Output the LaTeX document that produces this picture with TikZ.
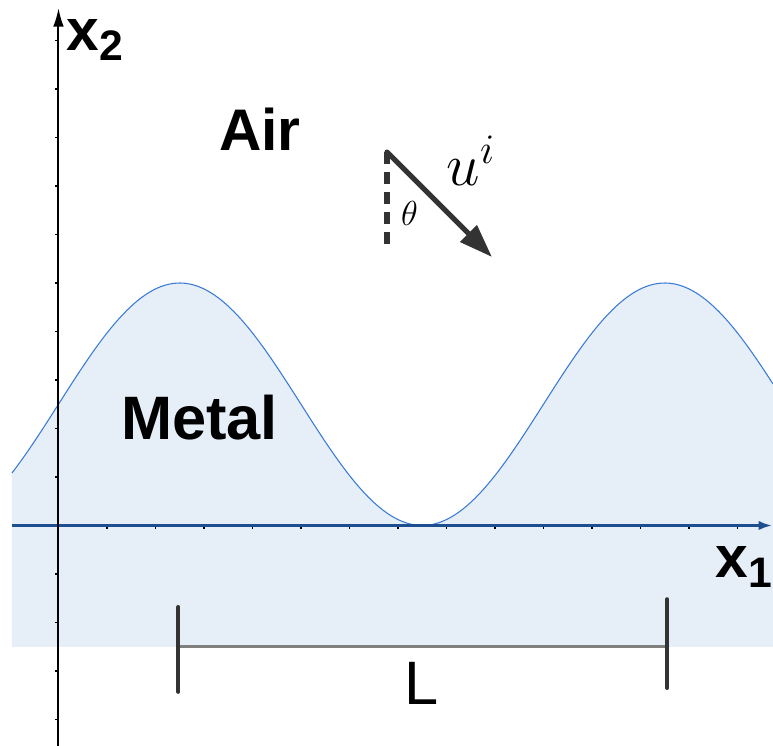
\RequirePackage{fix-cm}
\documentclass[tikz,border=0pt]{standalone}
\usepackage{fontspec}
\newfontfamily\arialf{Liberation Sans}
\usetikzlibrary{arrows.meta}
\definecolor{fillblue}{HTML}{E6EEF8}
\definecolor{waveblue}{HTML}{3A7BD5}
\definecolor{axisblue}{HTML}{1D4E8F}
\definecolor{darkgraythree}{HTML}{333333}
\definecolor{lgray}{HTML}{808080}
\tikzset{
  lbl/.style={inner sep=0pt, font=\arialf\bfseries\fontsize{44}{50}\selectfont},
  tickmark/.style={line width=1.2pt, black},
  wavecurve/.style={waveblue, line width=0.8pt},
  lbar/.style={darkgraythree, line width=3pt, line cap=round},
  incident/.style={darkgraythree, line width=3.8pt},
}
\begin{document}
\begin{tikzpicture}[x=36.375pt,y=36.375pt]
\useasboundingbox (-1.206,-4.526) rectangle (14.732,10.835);
% metal region
\fill[fillblue] (-0.959,-2.5) -- plot[domain=-0.959:14.732, samples=200] (\x,{2.5+2.5*cos(36*(\x-2.5))}) -- (14.732,-2.5) -- cycle;
\draw[wavecurve] plot[domain=-0.959:14.732, samples=200] (\x,{2.5+2.5*cos(36*(\x-2.5))});
% ticks
\foreach \k in {1,...,14} \draw[tickmark] (\k,0) -- (\k,-0.07);
\foreach \k in {-4,-3,-2,-1,1,2,3,4,5,6,7,8,9,10} \draw[tickmark] (0,\k) -- (-0.07,\k);
% axes
\coordinate (hstart) at (-0.959,0);
\coordinate (hend) at (14.71,0);
\coordinate (vstart) at (0,-4.6);
\coordinate (vend) at (0,10.67);
\draw[axisblue, line width=1.8pt, -{Latex[length=10pt,width=7pt]}] (hstart) -- (hend);
\draw[black, line width=1.5pt, -{Latex[length=14pt,width=8pt]}] (vstart) -- (vend);
% labels
\node[lbl, anchor=base] (air) at (4.155,7.74) {Air};
\node[lbl, anchor=base, font=\arialf\bfseries\fontsize{46}{50}\selectfont] (metal) at (2.907,1.763) {Metal};
\node[lbl, anchor=base west] (xtwo) at (0.16,9.80) {x\raisebox{-7.5pt}{\fontsize{32}{36}\selectfont 2}};
\node[lbl, anchor=base west] (xone) at (13.55,-1.08) {x\raisebox{-7pt}{\fontsize{32}{36}\selectfont 1}};
% period marker
\coordinate (la) at (2.474,-1.68);
\coordinate (lb) at (2.474,-3.43);
\coordinate (ra) at (12.55,-1.52);
\coordinate (rb) at (12.55,-3.35);
\coordinate (lm) at (2.474,-2.5);
\coordinate (rm) at (12.55,-2.5);
\draw[lgray, line width=2pt] (lm) -- (rm);
\draw[lbar] (la) -- (lb);
\draw[lbar] (ra) -- (rb);
\node[inner sep=0pt, font=\arialf\fontsize{46}{50}\selectfont, anchor=base] (L) at (7.48,-3.70) {L};
% incident wave
\coordinate (ustart) at (6.773,7.70);
\coordinate (uend) at (8.938,5.536);
\coordinate (dend) at (6.773,5.742);
\draw[incident, dash pattern=on 9pt off 6pt] (ustart) -- (dend);
\draw[incident, line cap=round, -{Triangle[length=25pt,width=17pt]}] (ustart) -- (uend);
\node[inner sep=0pt, font=\fontsize{26}{30}\selectfont] (theta) at (7.237,6.433) {$\theta$};
\node[inner sep=0pt, anchor=base west, font=\fontsize{45}{50}\selectfont] (ui) at (8.0,7.02) {$u^i$};
\end{tikzpicture}
\end{document}
